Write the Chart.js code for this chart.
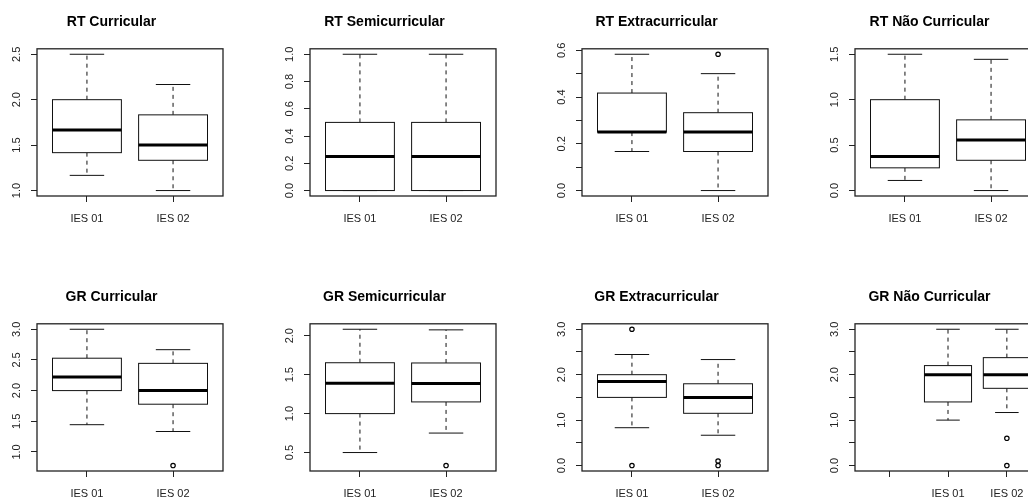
<!DOCTYPE html>
<html>
<head>
<meta charset="utf-8">
<script src="https://cdn.jsdelivr.net/npm/chart.js@4.4.1/dist/chart.umd.min.js"></script>
<style>
  html, body { margin: 0; padding: 0; background: #fff; overflow: hidden; }
  body { width: 1028px; height: 497px; position: relative; }
  .panel { position: absolute; width: 273px; height: 275px; }
</style>
</head>
<body>
<div class="panel" style="left:0px;top:0px"><canvas id="c0" width="273" height="275"></canvas></div>
<div class="panel" style="left:273px;top:0px"><canvas id="c1" width="273" height="275"></canvas></div>
<div class="panel" style="left:545px;top:0px"><canvas id="c2" width="273" height="275"></canvas></div>
<div class="panel" style="left:818px;top:0px"><canvas id="c3" width="273" height="275"></canvas></div>
<div class="panel" style="left:0px;top:275px"><canvas id="c4" width="273" height="275"></canvas></div>
<div class="panel" style="left:273px;top:275px"><canvas id="c5" width="273" height="275"></canvas></div>
<div class="panel" style="left:545px;top:275px"><canvas id="c6" width="273" height="275"></canvas></div>
<div class="panel" style="left:818px;top:275px"><canvas id="c7" width="273" height="275"></canvas></div>
<script>
// -------- DATA -------- //
const groups = ['IES 01', 'IES 02'];
const groupsGrNao = ['', 'IES 01', 'IES 02'];

// each box: [lower whisker, Q1, median, Q3, upper whisker]
const rtCurricular = [[1.167, 1.417, 1.667, 2.0, 2.5], [1.0, 1.333, 1.5, 1.833, 2.167]];
const rtSemicurricular = [[0, 0, 0.25, 0.5, 1.0], [0, 0, 0.25, 0.5, 1.0]];
const rtExtracurricular = [[0.167, 0.25, 0.25, 0.417, 0.583], [0, 0.167, 0.25, 0.333, 0.5]];
const rtNaoCurricular = [[0.111, 0.25, 0.375, 1.0, 1.5], [0, 0.333, 0.556, 0.778, 1.444]];
const grCurricular = [[1.444, 2.0, 2.222, 2.528, 3.0], [1.333, 1.778, 2.0, 2.444, 2.667]];
const grSemicurricular = [[0.5, 1.0, 1.389, 1.653, 2.083], [0.75, 1.15, 1.385, 1.65, 2.075]];
const grExtracurricular = [[0.833, 1.5, 1.85, 2.0, 2.444], [0.667, 1.15, 1.5, 1.8, 2.333]];
const grNaoCurricular = [null, [1.0, 1.4, 2.0, 2.2, 3.0], [1.167, 1.7, 2.0, 2.375, 3.0]];

// outliers per box
const rtExtraOut = [[], [0.583]];
const grCurrOut = [[], [0.778]];
const grSemiOut = [[], [0.333]];
const grExtraOut = [[3.0, 0], [0.1, 0]];
const grNaoOut = [[], [], [0.6, 0]];

// y tick values (labelled ones listed separately)
const ticksRtCurr = [1.0, 1.5, 2.0, 2.5];
const ticksRtSemi = [0, 0.2, 0.4, 0.6, 0.8, 1.0];
const ticksRtExtra = [0, 0.1, 0.2, 0.3, 0.4, 0.5, 0.6];
const labelsRtExtra = [0, 0.2, 0.4, 0.6];
const ticksRtNao = [0, 0.5, 1.0, 1.5];
const ticksGrCurr = [1.0, 1.5, 2.0, 2.5, 3.0];
const ticksGrSemi = [0.5, 1.0, 1.5, 2.0];
const ticksGr03 = [0, 0.5, 1.0, 1.5, 2.0, 2.5, 3.0];
const labelsGr03 = [0, 1.0, 2.0, 3.0];

// -------- BOXPLOT DRAWING -------- //
const FONT = "'Liberation Sans', Arial, Helvetica, sans-serif";

const boxPlugin = {
  id: 'boxes',
  afterDatasetsDraw(chart) {
    const {ctx, chartArea, scales: {x, y}} = chart;
    const boxes = chart.options.plugins.boxes.stats;
    ctx.save();
    ctx.strokeStyle = '#111';
    boxes.forEach((b, i) => {
      if (!b) return;
      const cx = x.getPixelForValue(i + 1);
      const half = x.getPixelForValue(i + 1.4) - cx;
      const cap = x.getPixelForValue(i + 1.2) - cx;
      const [lo, q1, med, q3, hi] = b.map(v => y.getPixelForValue(v));
      // whiskers
      ctx.lineWidth = 1;
      ctx.setLineDash([4, 4]);
      ctx.beginPath();
      ctx.moveTo(cx, q3); ctx.lineTo(cx, hi);
      ctx.moveTo(cx, q1); ctx.lineTo(cx, lo);
      ctx.stroke();
      ctx.setLineDash([]);
      // caps
      ctx.beginPath();
      ctx.moveTo(cx - cap, hi); ctx.lineTo(cx + cap, hi);
      ctx.moveTo(cx - cap, lo); ctx.lineTo(cx + cap, lo);
      ctx.stroke();
      // box
      ctx.fillStyle = '#fff';
      ctx.fillRect(cx - half, q3, half * 2, q1 - q3);
      ctx.strokeRect(cx - half, q3, half * 2, q1 - q3);
      // median
      ctx.lineWidth = 3;
      ctx.strokeStyle = '#000';
      ctx.beginPath();
      ctx.moveTo(cx - half, med); ctx.lineTo(cx + half, med);
      ctx.stroke();
      ctx.strokeStyle = '#111';
    });
    // frame
    ctx.lineWidth = 1.3;
    ctx.strokeStyle = '#222';
    ctx.strokeRect(chartArea.left, chartArea.top, chartArea.right - chartArea.left, chartArea.bottom - chartArea.top);
    ctx.restore();
  }
};

function makeBoxChart(id, title, cats, stats, outliers, yTicks, yLabels) {
  const vals = [];
  stats.forEach(b => { if (b) vals.push(...b); });
  (outliers || []).forEach(o => vals.push(...o));
  const lo = Math.min(...vals), hi = Math.max(...vals);
  const pad = (hi - lo) * 0.04;
  const labelled = yLabels || yTicks;

  const outPoints = [];
  (outliers || []).forEach((o, i) => o.forEach(v => outPoints.push({x: i + 1, y: v})));

  return new Chart(document.getElementById(id), {
    type: 'scatter',
    data: {
      datasets: [{
        data: outPoints,
        pointRadius: 2.2,
        pointHoverRadius: 2.2,
        borderColor: '#000',
        borderWidth: 1.2,
        backgroundColor: 'rgba(0,0,0,0)'
      }]
    },
    options: {
      responsive: false,
      animation: false,
      events: [],
      layout: { padding: { left: 0, right: 50, top: 0, bottom: 0 } },
      scales: {
        x: {
          type: 'linear',
          min: 0.42,
          max: cats.length + 0.58,
          afterBuildTicks: s => { s.ticks = cats.map((c, i) => ({ value: i + 1 })); },
          afterFit: s => { s.height = 79; s.paddingLeft = 0; s.paddingRight = 0; },
          grid: { drawOnChartArea: false, drawTicks: true, tickLength: 6, color: '#222' },
          border: { display: false },
          ticks: {
            autoSkip: false,
            maxRotation: 0,
            padding: 10,
            color: '#222',
            font: { family: FONT, size: 11 },
            callback: v => cats[Math.round(v) - 1] ?? ''
          }
        },
        y: {
          type: 'linear',
          min: lo - pad,
          max: hi + pad,
          afterBuildTicks: s => { s.ticks = yTicks.map(v => ({ value: v })); },
          afterFit: s => { s.width = 37; s.paddingTop = 0; s.paddingBottom = 0; },
          grid: { drawOnChartArea: false, drawTicks: true, tickLength: 6, color: '#222' },
          border: { display: false },
          ticks: {
            autoSkip: false,
            minRotation: 90,
            maxRotation: 90,
            crossAlign: 'center',
            padding: 6,
            color: '#222',
            font: { family: FONT, size: 11 },
            callback: v => labelled.some(l => Math.abs(l - v) < 1e-9) ? v.toFixed(1) : ''
          }
        }
      },
      plugins: {
        legend: { display: false },
        tooltip: { enabled: false },
        title: {
          display: true,
          text: title,
          color: '#000',
          font: { family: FONT, size: 14, weight: 'bold' },
          padding: { top: 14, bottom: 18 }
        },
        boxes: { stats: stats }
      }
    },
    plugins: [boxPlugin]
  });
}

makeBoxChart('c0', 'RT Curricular', groups, rtCurricular, null, ticksRtCurr);
makeBoxChart('c1', 'RT Semicurricular', groups, rtSemicurricular, null, ticksRtSemi);
makeBoxChart('c2', 'RT Extracurricular', groups, rtExtracurricular, rtExtraOut, ticksRtExtra, labelsRtExtra);
makeBoxChart('c3', 'RT Não Curricular', groups, rtNaoCurricular, null, ticksRtNao);
makeBoxChart('c4', 'GR Curricular', groups, grCurricular, grCurrOut, ticksGrCurr);
makeBoxChart('c5', 'GR Semicurricular', groups, grSemicurricular, grSemiOut, ticksGrSemi);
makeBoxChart('c6', 'GR Extracurricular', groups, grExtracurricular, grExtraOut, ticksGr03, labelsGr03);
makeBoxChart('c7', 'GR Não Curricular', groupsGrNao, grNaoCurricular, grNaoOut, ticksGr03, labelsGr03);
</script>
</body>
</html>
